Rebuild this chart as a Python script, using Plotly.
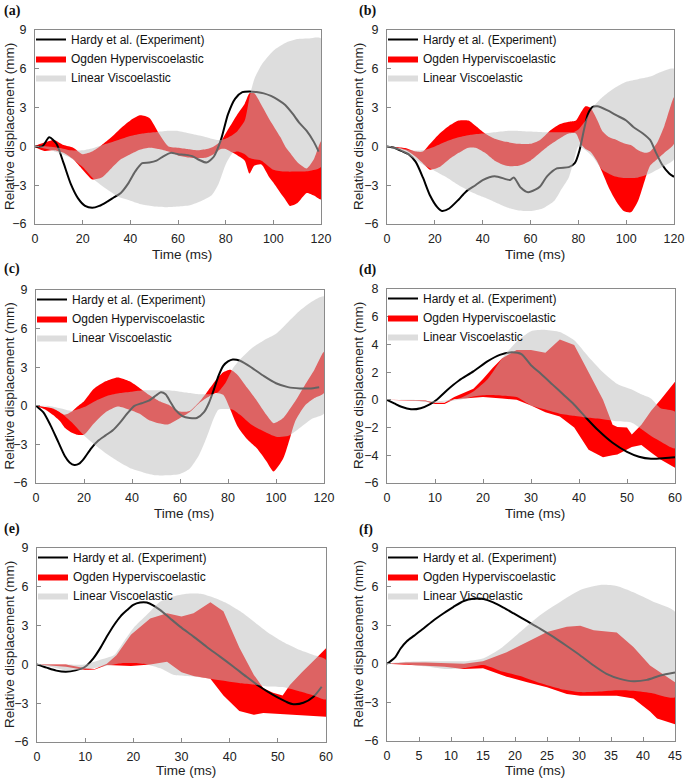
import plotly.graph_objects as go

# ---------------- data ----------------
# Panel (a)
a_hardy_t = [0,3,6,9,12,15,18,21,24,27,30,33,36,39,42,45,48,51,54,57,60,63,66,69,72,75,78,81,84,87,90,93,96,99,102,105,108,111,114,117,119]
a_hardy = [0,0,0.7,0.2,-1.3,-2.9,-4.0,-4.6,-4.75,-4.6,-4.3,-3.95,-3.6,-2.9,-1.95,-1.3,-1.25,-1.1,-0.75,-0.5,-0.6,-0.65,-0.75,-1.05,-1.25,-0.8,0.5,2.5,3.7,4.2,4.25,4.2,4.1,3.9,3.6,3.2,2.55,1.8,1.2,0.35,-0.4]
a_ogden_t = [0,4,8,12,16,20,24,28,32,36,40,44,48,52,56,60,64,68,72,75,78,80,83,85,88,90,92,95,98,100,103,105,107,110,114,117,120]
a_ogden_hi = [0,0.3,0.5,0.1,-0.1,-0.6,-0.4,0.1,0.7,1.4,2.0,2.4,2.2,1.0,0.0,-0.1,-0.2,-0.3,-0.2,0.0,0.4,1.0,1.9,2.5,3.3,4.1,4.1,3.2,2.2,1.6,0.7,0.0,-0.5,-1.2,-1.7,-1.0,0.4]
a_ogden_lo = [0,-0.35,-0.3,-0.5,-1.0,-1.8,-2.55,-2.4,-1.7,-1.0,-0.6,-0.25,-0.1,-0.2,-0.4,-0.7,-0.85,-0.9,-0.85,-0.6,-0.2,-0.2,-0.5,-0.7,-1.1,-2.1,-1.5,-1.4,-2.3,-2.8,-3.6,-4.1,-4.6,-4.4,-3.6,-3.8,-4.1]
a_linear_t = [0,5,10,15,20,25,30,35,40,45,50,55,60,65,70,74,77,80,83,85,88,90,92,95,100,105,110,115,120]
a_linear_hi = [0,0,-0.1,-0.3,-0.3,-0.1,0.2,0.5,0.8,1.0,1.1,1.2,1.2,1.0,0.8,0.6,0.5,0.6,0.9,1.2,2.0,3.8,5.2,6.3,7.4,8.0,8.3,8.35,8.35]
a_linear_lo = [0,-0.2,-0.5,-0.9,-1.6,-2.6,-3.3,-3.9,-4.2,-4.5,-4.65,-4.7,-4.65,-4.55,-4.2,-3.8,-2.9,-1.4,-0.5,-0.4,-0.6,-0.9,-1.0,-1.1,-1.8,-1.95,-1.95,-1.9,-1.6]

# Panel (b)
b_hardy_t = [0,3,6,9,12,15,18,21,23,26,30,33,37,40,45,50,51.5,53,56,59,62,64,67,71,76,78.5,80.5,82.5,84,86,88,92,96,100,103,107,110,112.5,115,118,120]
b_hardy = [0,-0.1,-0.35,-0.6,-1.2,-2.4,-3.8,-4.7,-5.0,-4.8,-4.1,-3.5,-3.0,-2.6,-2.3,-2.55,-2.6,-2.4,-3.2,-3.55,-3.35,-3.1,-2.3,-1.7,-1.6,-1.3,-0.3,1.4,2.5,3.05,3.1,2.8,2.4,2.0,1.5,1.0,0.5,-0.5,-1.4,-2.1,-2.35]
b_ogden_t = [0,4,8,12,15,18,22,26,30,34,37,41,45,50,55,60,64,68,72,76,79,81,83,85,88,90,93,96,99,102,105,108,110,113,116,120]
b_ogden_hi = [0,-0.05,-0.15,-0.4,-0.4,0.2,1.0,1.6,2.0,2.0,1.6,1.0,0.6,0.35,0.2,0.2,0.5,1.2,1.7,1.9,2.0,2.6,3.1,3.0,2.0,1.2,0.7,0.5,0.25,0.1,-0.3,-0.5,-0.4,0.3,1.6,3.8]
b_ogden_lo = [0,-0.1,-0.3,-0.8,-1.3,-1.8,-1.6,-1.0,-0.5,-0.1,-0.1,-0.5,-1.1,-1.5,-1.5,-1.1,-0.5,0.1,0.6,1.0,1.0,0.2,-0.2,-0.4,-1.2,-2.0,-3.3,-4.3,-5.0,-5.1,-4.2,-2.5,-1.5,-1.0,-0.5,0.2]
b_linear_t = [0,5,10,15,20,25,30,35,40,45,50,55,60,65,70,73,76,78,80,83,86,90,95,100,105,110,115,120]
b_linear_hi = [0,-0.1,-0.3,-0.3,0.0,0.4,0.7,0.9,1.0,1.1,1.2,1.2,1.15,1.1,1.1,1.1,1.1,1.1,1.3,2.0,3.0,3.8,4.5,5.0,5.2,5.4,5.8,6.0]
b_linear_lo = [0,-0.3,-0.8,-1.4,-1.9,-2.4,-3.0,-3.5,-3.9,-4.3,-4.7,-4.95,-5.0,-4.8,-4.2,-3.3,-2.4,-1.2,0.0,-0.3,-0.8,-1.8,-2.3,-2.45,-2.4,-2.1,-1.6,-1.0]

# Panel (c)
c_hardy_t = [0,3,6,9,12,14,16,18,20,23,26,29,32,35,38,41,44,47,50,52,54,56,58,61,64,67,70,72,74,76,78,80,82,85,90,95,100,105,110,114,118]
c_hardy = [0,-0.5,-1.5,-2.7,-3.9,-4.4,-4.6,-4.5,-4.1,-3.3,-2.7,-2.3,-1.9,-1.3,-0.6,0.0,0.2,0.4,0.8,1.05,0.9,0.3,-0.3,-0.8,-0.95,-0.95,-0.5,0.2,1.2,2.3,3.1,3.45,3.6,3.5,2.95,2.3,1.75,1.45,1.35,1.35,1.45]
c_ogden_t = [0,4,7,10,12,15,17,20,24,29,34,39,43,47,51,55,60,64,68,71,75,78,81,84,88,92,96,99,103,106,108,112,116,120]
c_ogden_hi = [0,-0.1,-0.2,-0.5,-0.7,-0.45,-0.1,0.35,1.3,1.9,2.2,1.9,1.4,0.85,0.4,0.1,-0.45,-0.4,0.3,1.0,2.0,2.6,2.8,2.4,1.4,0.4,-0.7,-1.35,-0.95,-0.2,0.35,1.6,2.8,4.2]
c_ogden_lo = [0,-0.3,-0.7,-1.2,-1.7,-2.1,-2.25,-2.25,-1.4,-0.5,-0.05,-0.3,-0.6,-1.1,-1.35,-1.45,-0.95,-0.5,0.2,0.6,1.0,0.85,-0.3,-1.6,-2.6,-3.3,-4.3,-5.1,-4.1,-2.4,-1.2,0.0,0.6,1.0]
c_linear_t = [0,5,10,15,20,25,30,35,40,45,50,55,60,64,68,71,74,76,79,82,85,90,95,100,105,110,115,120]
c_linear_hi = [0,0,-0.2,-0.4,-0.1,0.4,0.8,1.0,1.1,1.2,1.2,1.2,1.1,1.0,0.9,0.9,0.9,1.1,1.8,2.9,3.6,4.5,5.1,5.6,6.5,7.4,8.1,8.5]
c_linear_lo = [0,-0.1,-0.5,-1.3,-2.3,-3.1,-3.8,-4.4,-4.9,-5.2,-5.4,-5.4,-5.3,-4.9,-3.8,-2.5,-1.0,-0.3,-0.25,-0.3,-0.7,-1.5,-2.0,-2.4,-2.35,-1.7,-1.0,-0.6]

# Panel (d)
d_hardy_t = [0,1.5,3,5,7,9,10.5,12.5,15,18,21,23.5,26,28,30,32,34.5,37,39,41.5,44,47,50,52.5,55,58,60]
d_hardy = [0,-0.25,-0.5,-0.68,-0.6,-0.3,0.05,0.7,1.4,2.05,2.8,3.25,3.43,3.3,2.5,1.9,1.1,0.3,-0.35,-1.3,-2.2,-3.1,-3.75,-4.1,-4.25,-4.2,-4.15]
d_ogden_t = [0,5,8,10,12,14,16,18,20,22,24,27,30,33,36,39,42,45,47,48,50,51,53,55,57,60]
d_ogden_hi = [0,0.0,-0.05,-0.2,-0.2,0.2,0.5,0.8,1.5,2.3,3.0,3.6,3.6,3.4,4.35,3.95,2.0,0.0,-1.8,-1.95,-2.0,-2.5,-1.8,-0.8,0.0,1.3]
d_ogden_lo = [0,-0.05,-0.1,-0.3,-0.3,0.05,0.1,0.15,0.2,0.15,0.1,0.0,-0.4,-0.9,-1.2,-2.0,-3.6,-4.15,-4.0,-3.95,-3.6,-3.4,-3.25,-3.8,-4.3,-4.9]
d_linear_t = [0,5,10,15,18,21,24,27,30,33,36,39,42,45,48,51,53,55,57,60]
d_linear_hi = [0,0.0,-0.1,0.1,0.6,1.5,3.0,4.2,4.95,5.05,4.9,4.3,3.1,2.0,1.15,0.75,0.4,0.1,-0.6,-0.85]
d_linear_lo = [0,-0.05,-0.2,0.0,0.25,0.35,0.3,0.2,-0.4,-0.7,-1.0,-1.15,-1.3,-1.4,-1.55,-1.65,-2.1,-2.6,-3.0,-3.5]

# Panel (e)
e_hardy_t = [0,2,4,6,8,10,11.7,13.1,14.5,16,17.3,18.7,20,21.4,22.8,24.2,25.6,27.6,29.7,32.5,35.2,38,40.8,43.5,46.3,49.1,51.8,53.2,55.3,57.4,59.1]
e_hardy = [0,-0.25,-0.48,-0.57,-0.46,-0.18,0.47,1.24,2.15,3.05,3.7,4.2,4.6,4.78,4.78,4.55,4.2,3.57,2.92,2.15,1.37,0.6,-0.18,-0.96,-1.73,-2.38,-2.9,-3.08,-2.97,-2.5,-1.73]
e_ogden_t = [0,6,10,12,14.5,16.5,19.5,23.5,27,30,32.5,36,38.7,42,45,47,49,51,52.5,55,58,60]
e_ogden_hi = [0,0.0,-0.3,-0.35,0.05,0.7,2.3,3.55,3.95,3.7,3.95,4.8,4.1,1.3,-0.8,-1.85,-2.2,-2.4,-1.6,-0.6,0.5,1.25]
e_ogden_lo = [0,-0.18,-0.44,-0.4,-0.05,-0.1,-0.13,0.0,0.2,-0.6,-0.9,-1.1,-2.4,-3.6,-3.9,-3.75,-3.75,-3.8,-3.85,-3.9,-4.0,-4.05]
e_linear_t = [0,3,6,10,13,16,18,20,22.8,25.6,28.3,31,34,36.6,39.4,42.2,45,47.7,51,54.6,57.4,60]
e_linear_hi = [0,0,0,0.0,0.34,0.72,1.76,2.8,3.83,4.86,5.25,5.46,5.46,5.17,4.73,4.1,3.31,2.53,1.76,1.11,0.72,0.34]
e_linear_lo = [0,-0.2,-0.45,-0.4,-0.2,0.0,0.1,0.1,0.0,-0.3,-0.8,-0.9,-1.0,-1.15,-1.3,-1.45,-1.55,-1.7,-1.75,-2.1,-2.4,-2.7]

# Panel (f)
f_hardy_t = [0,0.5,1.3,2.1,3.1,4.2,5.7,7.3,8.8,10.4,12,13.5,15.1,16.6,18.2,19.8,21.9,23.9,26,28.1,30.2,32.3,34.3,36.4,38.5,40.6,42.7,45]
f_hardy = [0,0.18,0.52,1.17,1.75,2.17,2.74,3.39,3.91,4.43,4.88,5.05,5.04,4.77,4.36,3.91,3.31,2.74,2.09,1.38,0.65,-0.13,-0.78,-1.17,-1.36,-1.25,-0.91,-0.68]
f_ogden_t = [0,3,6,9,12,15,18.7,21.9,25,28.1,30.2,32.3,35.9,38.5,41.1,42.2,45]
f_ogden_hi = [0,0.1,0.1,0.05,0.0,0.2,0.9,1.7,2.48,2.87,2.95,2.6,2.43,1.3,-0.13,-0.5,-1.43]
f_ogden_lo = [0,-0.05,-0.13,-0.22,-0.4,-0.34,-1.0,-1.43,-1.83,-2.35,-2.48,-2.48,-2.48,-2.69,-3.7,-4.25,-4.7]
f_linear_t = [0,3,6,9,12,15.1,17.7,20.8,23.9,27.1,30.2,33.3,35.9,38.5,41.6,45]
f_linear_hi = [0,0.15,0.2,0.2,0.2,0.44,1.17,2.48,3.78,4.83,5.74,6.13,6.05,5.56,4.83,4.04]
f_linear_lo = [0,-0.05,-0.2,-0.4,-0.35,-0.1,-0.55,-0.95,-1.5,-1.95,-2.2,-2.15,-2.05,-2.1,-2.3,-2.6]

panel_labels = ["(a)", "(b)", "(c)", "(d)", "(e)", "(f)"]
x_ranges = [[0, 120], [0, 120], [0, 120], [0, 60], [0, 60], [0, 45]]
x_dticks = [20, 20, 20, 10, 10, 5]
y_ranges = [[-6, 9], [-6, 9], [-6, 9], [-6, 8], [-6, 9], [-6, 9]]
y_dticks = [3, 3, 3, 2, 3, 3]

series_names = ["Hardy et al. (Experiment)", "Ogden Hyperviscoelastic", "Linear Viscoelastic"]
x_title = "Time (ms)"
y_title = "Relative displacement (mm)"

panels = [
    (a_hardy_t, a_hardy, a_ogden_t, a_ogden_hi, a_ogden_lo, a_linear_t, a_linear_hi, a_linear_lo),
    (b_hardy_t, b_hardy, b_ogden_t, b_ogden_hi, b_ogden_lo, b_linear_t, b_linear_hi, b_linear_lo),
    (c_hardy_t, c_hardy, c_ogden_t, c_ogden_hi, c_ogden_lo, c_linear_t, c_linear_hi, c_linear_lo),
    (d_hardy_t, d_hardy, d_ogden_t, d_ogden_hi, d_ogden_lo, d_linear_t, d_linear_hi, d_linear_lo),
    (e_hardy_t, e_hardy, e_ogden_t, e_ogden_hi, e_ogden_lo, e_linear_t, e_linear_hi, e_linear_lo),
    (f_hardy_t, f_hardy, f_ogden_t, f_ogden_hi, f_ogden_lo, f_linear_t, f_linear_hi, f_linear_lo),
]

# ---------------- layout geometry (pixels) ----------------
W, H = 685, 779
# plot boxes: left, right, top, bottom
boxes = [
    (35, 321, 30, 224),
    (387, 674, 30, 224),
    (36, 324, 290, 483),
    (387, 675, 289, 483),
    (37, 326, 548, 742),
    (387, 675, 548, 741),
]
label_pos = [(2, 11), (357, 11), (2, 269), (357, 270), (2, 529), (357, 530)]
xtitle_y = [254, 254, 513, 513, 770, 770]
ytitle_x = [9, 358, 9, 358, 9, 358]

RED = "#ff0000"
GRAY = "rgba(190,190,190,0.52)"
FRAME = "#8a8a8a"
SANS = "Liberation Sans, Arial, sans-serif"

fig = go.Figure()
layout = dict(
    width=W, height=H,
    margin=dict(l=0, r=0, t=0, b=0, autoexpand=False),
    paper_bgcolor="white", plot_bgcolor="white",
    showlegend=True,
    font=dict(family=SANS, size=12.5, color="#222"),
)
annotations = []


def px_x(x):
    return x / W


def px_y(y):
    return 1 - y / H


for i, (ht, hv, ot, ohi, olo, lt, lhi, llo) in enumerate(panels):
    n = "" if i == 0 else str(i + 1)
    xa, ya = "x" + n, "y" + n
    leg = "legend" + n
    ogden_shape = "spline" if i < 3 else "linear"

    fig.add_trace(go.Scatter(
        x=list(ot) + list(ot)[::-1], y=list(ohi) + list(olo)[::-1],
        fill="toself", fillcolor=RED, line=dict(width=0, shape=ogden_shape, smoothing=0.6),
        mode="lines", name=series_names[1], xaxis=xa, yaxis=ya, legend=leg, legendrank=2,
        hoverinfo="skip"))
    fig.add_trace(go.Scatter(
        x=ht, y=hv, mode="lines", line=dict(color="black", width=2, shape="spline", smoothing=0.7),
        name=series_names[0], xaxis=xa, yaxis=ya, legend=leg, legendrank=1))
    fig.add_trace(go.Scatter(
        x=list(lt) + list(lt)[::-1], y=list(lhi) + list(llo)[::-1],
        fill="toself", fillcolor=GRAY, line=dict(width=0, shape="spline", smoothing=0.6),
        mode="lines", name=series_names[2], xaxis=xa, yaxis=ya, legend=leg, legendrank=3,
        hoverinfo="skip"))

    l, r, t, b = boxes[i]
    axis_common = dict(
        showline=True, mirror=True, linecolor=FRAME, linewidth=1,
        ticks="inside", ticklen=4, tickcolor=FRAME, tickwidth=1,
        showgrid=False, zeroline=False, automargin=False,
        tickfont=dict(family=SANS, size=12.5, color="#222"),
    )
    layout["xaxis" + n] = dict(axis_common, domain=[px_x(l), px_x(r)], range=x_ranges[i],
                               dtick=x_dticks[i], tick0=0, anchor=ya, ticklabelstandoff=3)
    layout["yaxis" + n] = dict(axis_common, domain=[px_y(b), px_y(t)], range=y_ranges[i],
                               dtick=y_dticks[i], tick0=0, anchor=xa, ticklabelstandoff=5)
    layout[leg] = dict(
        x=px_x(l - 4), y=px_y(t - 5), xanchor="left", yanchor="top",
        bgcolor="rgba(0,0,0,0)", font=dict(family=SANS, size=12, color="#111"),
        tracegroupgap=0, itemwidth=30,
    )

    lx, ly = label_pos[i]
    annotations.append(dict(text="<b>" + panel_labels[i] + "</b>", x=px_x(lx), y=px_y(ly),
                            xref="paper", yref="paper", xanchor="left", yanchor="middle",
                            showarrow=False, font=dict(family="Liberation Serif, Times New Roman, serif",
                                                       size=14, color="#111")))
    annotations.append(dict(text=x_title, x=px_x((l + r) / 2 + 4), y=px_y(xtitle_y[i]),
                            xref="paper", yref="paper", xanchor="center", yanchor="middle",
                            showarrow=False, font=dict(family=SANS, size=13.5, color="#222")))
    annotations.append(dict(text=y_title, x=px_x(ytitle_x[i]), y=px_y((t + b) / 2),
                            xref="paper", yref="paper", xanchor="center", yanchor="middle",
                            textangle=-90, showarrow=False,
                            font=dict(family=SANS, size=13.5, color="#222")))

layout["annotations"] = annotations
fig.update_layout(**layout)
# the page's default 8px body margin would push the 685x779 figure out of the window
fig.write_html("out.html",
               config={"displayModeBar": False},
               post_script="document.body.style.margin='0px';document.body.style.overflow='hidden';")
